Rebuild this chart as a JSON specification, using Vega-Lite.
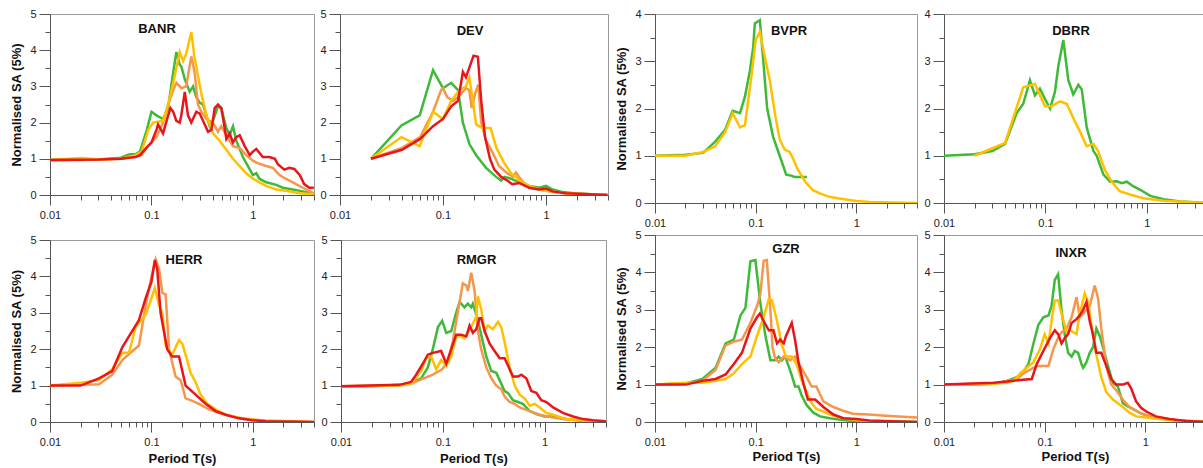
{
"$schema":"https://vega.github.io/schema/vega-lite/v6.json",
"padding":{"left":10,"top":7,"right":0,"bottom":0},
"autosize":{"type":"pad"},
"datasets":{
"BANR":[
{"s":"G","T":0.01,"v":0.97},{"s":"G","T":0.02,"v":0.97},{"s":"G","T":0.03,"v":0.98},{"s":"G","T":0.05,"v":1.03},{"s":"G","T":0.06,"v":1.12},{"s":"G","T":0.07,"v":1.13},{"s":"G","T":0.077,"v":1.2},{"s":"G","T":0.09,"v":1.8},{"s":"G","T":0.1,"v":2.3},{"s":"G","T":0.112,"v":2.2},{"s":"G","T":0.13,"v":2.1},{"s":"G","T":0.146,"v":2.4},{"s":"G","T":0.16,"v":3.2},{"s":"G","T":0.176,"v":3.95},{"s":"G","T":0.19,"v":3.6},{"s":"G","T":0.197,"v":3.55},{"s":"G","T":0.213,"v":3.2},{"s":"G","T":0.238,"v":2.85},{"s":"G","T":0.257,"v":3.0},{"s":"G","T":0.277,"v":2.7},{"s":"G","T":0.299,"v":2.55},{"s":"G","T":0.322,"v":2.5},{"s":"G","T":0.348,"v":2.2},{"s":"G","T":0.375,"v":1.9},{"s":"G","T":0.404,"v":2.05},{"s":"G","T":0.453,"v":2.45},{"s":"G","T":0.488,"v":2.4},{"s":"G","T":0.547,"v":1.85},{"s":"G","T":0.589,"v":1.65},{"s":"G","T":0.636,"v":1.9},{"s":"G","T":0.686,"v":1.5},{"s":"G","T":0.797,"v":1.05},{"s":"G","T":0.893,"v":0.8},{"s":"G","T":1.0,"v":0.55},{"s":"G","T":1.08,"v":0.6},{"s":"G","T":1.16,"v":0.45},{"s":"G","T":1.35,"v":0.35},{"s":"G","T":1.7,"v":0.28},{"s":"G","T":1.97,"v":0.2},{"s":"G","T":2.47,"v":0.15},{"s":"G","T":3.1,"v":0.1},{"s":"G","T":3.98,"v":0.03},
{"s":"O","T":0.01,"v":0.97},{"s":"O","T":0.03,"v":0.98},{"s":"O","T":0.05,"v":1.0},{"s":"O","T":0.07,"v":1.08},{"s":"O","T":0.08,"v":1.1},{"s":"O","T":0.089,"v":1.3},{"s":"O","T":0.112,"v":1.6},{"s":"O","T":0.13,"v":2.0},{"s":"O","T":0.146,"v":2.5},{"s":"O","T":0.164,"v":2.9},{"s":"O","T":0.176,"v":3.1},{"s":"O","T":0.197,"v":2.95},{"s":"O","T":0.22,"v":3.0},{"s":"O","T":0.247,"v":3.83},{"s":"O","T":0.266,"v":3.4},{"s":"O","T":0.287,"v":2.5},{"s":"O","T":0.31,"v":2.3},{"s":"O","T":0.348,"v":2.1},{"s":"O","T":0.404,"v":2.0},{"s":"O","T":0.453,"v":1.75},{"s":"O","T":0.488,"v":1.9},{"s":"O","T":0.547,"v":1.65},{"s":"O","T":0.589,"v":1.5},{"s":"O","T":0.636,"v":1.35},{"s":"O","T":0.74,"v":1.3},{"s":"O","T":0.86,"v":1.1},{"s":"O","T":1.0,"v":0.95},{"s":"O","T":1.11,"v":0.88},{"s":"O","T":1.35,"v":0.8},{"s":"O","T":1.57,"v":0.75},{"s":"O","T":1.83,"v":0.55},{"s":"O","T":2.1,"v":0.45},{"s":"O","T":2.47,"v":0.35},{"s":"O","T":3.1,"v":0.2},{"s":"O","T":3.98,"v":0.05},
{"s":"Y","T":0.01,"v":0.97},{"s":"Y","T":0.02,"v":1.02},{"s":"Y","T":0.03,"v":0.99},{"s":"Y","T":0.05,"v":1.0},{"s":"Y","T":0.06,"v":1.05},{"s":"Y","T":0.07,"v":1.1},{"s":"Y","T":0.08,"v":1.2},{"s":"Y","T":0.093,"v":1.8},{"s":"Y","T":0.104,"v":2.0},{"s":"Y","T":0.13,"v":2.05},{"s":"Y","T":0.146,"v":2.5},{"s":"Y","T":0.164,"v":3.1},{"s":"Y","T":0.19,"v":3.95},{"s":"Y","T":0.205,"v":3.7},{"s":"Y","T":0.22,"v":3.9},{"s":"Y","T":0.247,"v":4.5},{"s":"Y","T":0.266,"v":3.8},{"s":"Y","T":0.287,"v":3.3},{"s":"Y","T":0.31,"v":2.8},{"s":"Y","T":0.348,"v":2.2},{"s":"Y","T":0.404,"v":1.7},{"s":"Y","T":0.47,"v":1.5},{"s":"Y","T":0.547,"v":1.25},{"s":"Y","T":0.636,"v":1.0},{"s":"Y","T":0.74,"v":0.8},{"s":"Y","T":0.86,"v":0.6},{"s":"Y","T":1.0,"v":0.45},{"s":"Y","T":1.16,"v":0.35},{"s":"Y","T":1.35,"v":0.25},{"s":"Y","T":1.7,"v":0.15},{"s":"Y","T":2.1,"v":0.12},{"s":"Y","T":2.9,"v":0.05},{"s":"Y","T":3.98,"v":0.02},
{"s":"R","T":0.01,"v":0.97},{"s":"R","T":0.03,"v":0.98},{"s":"R","T":0.05,"v":1.0},{"s":"R","T":0.07,"v":1.05},{"s":"R","T":0.077,"v":1.1},{"s":"R","T":0.089,"v":1.3},{"s":"R","T":0.1,"v":1.45},{"s":"R","T":0.112,"v":1.8},{"s":"R","T":0.116,"v":1.95},{"s":"R","T":0.13,"v":1.7},{"s":"R","T":0.146,"v":2.2},{"s":"R","T":0.154,"v":2.4},{"s":"R","T":0.164,"v":2.3},{"s":"R","T":0.176,"v":2.05},{"s":"R","T":0.19,"v":2.0},{"s":"R","T":0.197,"v":2.2},{"s":"R","T":0.213,"v":2.85},{"s":"R","T":0.229,"v":2.2},{"s":"R","T":0.247,"v":2.0},{"s":"R","T":0.277,"v":2.3},{"s":"R","T":0.299,"v":2.25},{"s":"R","T":0.335,"v":1.95},{"s":"R","T":0.361,"v":1.75},{"s":"R","T":0.39,"v":1.8},{"s":"R","T":0.42,"v":2.4},{"s":"R","T":0.453,"v":2.5},{"s":"R","T":0.488,"v":2.4},{"s":"R","T":0.527,"v":1.85},{"s":"R","T":0.547,"v":1.55},{"s":"R","T":0.589,"v":1.7},{"s":"R","T":0.636,"v":1.45},{"s":"R","T":0.686,"v":1.6},{"s":"R","T":0.74,"v":1.65},{"s":"R","T":0.83,"v":1.35},{"s":"R","T":0.93,"v":1.1},{"s":"R","T":1.0,"v":1.2},{"s":"R","T":1.08,"v":1.27},{"s":"R","T":1.25,"v":1.05},{"s":"R","T":1.45,"v":1.05},{"s":"R","T":1.65,"v":1.0},{"s":"R","T":1.76,"v":0.85},{"s":"R","T":2.04,"v":0.7},{"s":"R","T":2.28,"v":0.75},{"s":"R","T":2.56,"v":0.72},{"s":"R","T":2.9,"v":0.55},{"s":"R","T":3.2,"v":0.3},{"s":"R","T":3.6,"v":0.2},{"s":"R","T":3.98,"v":0.2}
],
"DEV":[
{"s":"G","T":0.02,"v":1.0},{"s":"G","T":0.0395,"v":1.92},{"s":"G","T":0.0594,"v":2.2},{"s":"G","T":0.08,"v":3.45},{"s":"G","T":0.1,"v":2.95},{"s":"G","T":0.12,"v":3.1},{"s":"G","T":0.14,"v":2.9},{"s":"G","T":0.156,"v":2.0},{"s":"G","T":0.181,"v":1.4},{"s":"G","T":0.21,"v":1.1},{"s":"G","T":0.262,"v":0.75},{"s":"G","T":0.328,"v":0.5},{"s":"G","T":0.367,"v":0.4},{"s":"G","T":0.395,"v":0.5},{"s":"G","T":0.458,"v":0.45},{"s":"G","T":0.552,"v":0.35},{"s":"G","T":0.69,"v":0.25},{"s":"G","T":0.861,"v":0.2},{"s":"G","T":1.0,"v":0.25},{"s":"G","T":1.16,"v":0.15},{"s":"G","T":1.45,"v":0.08},{"s":"G","T":1.95,"v":0.04},{"s":"G","T":3.95,"v":0.0},
{"s":"O","T":0.02,"v":1.0},{"s":"O","T":0.04,"v":1.3},{"s":"O","T":0.06,"v":1.6},{"s":"O","T":0.08,"v":2.3},{"s":"O","T":0.096,"v":2.9},{"s":"O","T":0.1,"v":2.95},{"s":"O","T":0.11,"v":2.7},{"s":"O","T":0.125,"v":2.6},{"s":"O","T":0.14,"v":2.7},{"s":"O","T":0.167,"v":2.95},{"s":"O","T":0.18,"v":2.9},{"s":"O","T":0.19,"v":2.4},{"s":"O","T":0.205,"v":2.8},{"s":"O","T":0.22,"v":3.05},{"s":"O","T":0.235,"v":2.0},{"s":"O","T":0.262,"v":1.5},{"s":"O","T":0.3,"v":1.2},{"s":"O","T":0.35,"v":0.8},{"s":"O","T":0.42,"v":0.6},{"s":"O","T":0.48,"v":0.5},{"s":"O","T":0.51,"v":0.62},{"s":"O","T":0.58,"v":0.4},{"s":"O","T":0.69,"v":0.2},{"s":"O","T":0.861,"v":0.15},{"s":"O","T":1.0,"v":0.12},{"s":"O","T":1.16,"v":0.08},{"s":"O","T":1.56,"v":0.04},{"s":"O","T":3.95,"v":0.0},
{"s":"Y","T":0.02,"v":1.0},{"s":"Y","T":0.0395,"v":1.6},{"s":"Y","T":0.051,"v":1.45},{"s":"Y","T":0.0594,"v":1.35},{"s":"Y","T":0.08,"v":2.3},{"s":"Y","T":0.1,"v":2.1},{"s":"Y","T":0.12,"v":2.6},{"s":"Y","T":0.145,"v":2.9},{"s":"Y","T":0.167,"v":3.0},{"s":"Y","T":0.18,"v":3.25},{"s":"Y","T":0.195,"v":2.6},{"s":"Y","T":0.21,"v":1.95},{"s":"Y","T":0.24,"v":1.85},{"s":"Y","T":0.29,"v":1.85},{"s":"Y","T":0.33,"v":1.3},{"s":"Y","T":0.39,"v":0.9},{"s":"Y","T":0.458,"v":0.6},{"s":"Y","T":0.51,"v":0.5},{"s":"Y","T":0.552,"v":0.4},{"s":"Y","T":0.69,"v":0.25},{"s":"Y","T":0.861,"v":0.15},{"s":"Y","T":1.16,"v":0.1},{"s":"Y","T":1.56,"v":0.05},{"s":"Y","T":3.95,"v":0.0},
{"s":"R","T":0.02,"v":1.0},{"s":"R","T":0.04,"v":1.25},{"s":"R","T":0.06,"v":1.55},{"s":"R","T":0.08,"v":1.9},{"s":"R","T":0.1,"v":2.1},{"s":"R","T":0.12,"v":2.45},{"s":"R","T":0.14,"v":2.6},{"s":"R","T":0.156,"v":3.4},{"s":"R","T":0.167,"v":3.25},{"s":"R","T":0.198,"v":3.85},{"s":"R","T":0.218,"v":3.82},{"s":"R","T":0.235,"v":2.6},{"s":"R","T":0.256,"v":1.6},{"s":"R","T":0.286,"v":1.0},{"s":"R","T":0.315,"v":0.7},{"s":"R","T":0.367,"v":0.5},{"s":"R","T":0.42,"v":0.4},{"s":"R","T":0.47,"v":0.3},{"s":"R","T":0.552,"v":0.33},{"s":"R","T":0.69,"v":0.2},{"s":"R","T":0.861,"v":0.15},{"s":"R","T":1.0,"v":0.18},{"s":"R","T":1.16,"v":0.1},{"s":"R","T":1.56,"v":0.05},{"s":"R","T":3.95,"v":0.0}
],
"BVPR":[
{"s":"G","T":0.01,"v":1.0},{"s":"G","T":0.02,"v":1.02},{"s":"G","T":0.03,"v":1.06},{"s":"G","T":0.0396,"v":1.3},{"s":"G","T":0.0497,"v":1.55},{"s":"G","T":0.0591,"v":1.95},{"s":"G","T":0.0698,"v":1.9},{"s":"G","T":0.0782,"v":2.25},{"s":"G","T":0.0876,"v":2.8},{"s":"G","T":0.0945,"v":3.3},{"s":"G","T":0.098,"v":3.8},{"s":"G","T":0.11,"v":3.87},{"s":"G","T":0.119,"v":3.0},{"s":"G","T":0.13,"v":2.0},{"s":"G","T":0.149,"v":1.4},{"s":"G","T":0.173,"v":1.0},{"s":"G","T":0.201,"v":0.6},{"s":"G","T":0.225,"v":0.58},{"s":"G","T":0.243,"v":0.55},{"s":"G","T":0.322,"v":0.55},
{"s":"Y","T":0.01,"v":1.0},{"s":"Y","T":0.02,"v":1.0},{"s":"Y","T":0.03,"v":1.08},{"s":"Y","T":0.0396,"v":1.2},{"s":"Y","T":0.0497,"v":1.5},{"s":"Y","T":0.0591,"v":1.9},{"s":"Y","T":0.0698,"v":1.6},{"s":"Y","T":0.0782,"v":1.65},{"s":"Y","T":0.091,"v":2.7},{"s":"Y","T":0.1,"v":3.45},{"s":"Y","T":0.11,"v":3.62},{"s":"Y","T":0.123,"v":3.1},{"s":"Y","T":0.138,"v":2.6},{"s":"Y","T":0.155,"v":1.9},{"s":"Y","T":0.173,"v":1.35},{"s":"Y","T":0.194,"v":1.13},{"s":"Y","T":0.217,"v":1.08},{"s":"Y","T":0.234,"v":0.95},{"s":"Y","T":0.26,"v":0.72},{"s":"Y","T":0.31,"v":0.45},{"s":"Y","T":0.37,"v":0.27},{"s":"Y","T":0.44,"v":0.2},{"s":"Y","T":0.52,"v":0.14},{"s":"Y","T":0.65,"v":0.1},{"s":"Y","T":1.0,"v":0.04},{"s":"Y","T":1.37,"v":0.02},{"s":"Y","T":4.0,"v":0.0}
],
"DBRR":[
{"s":"G","T":0.01,"v":1.0},{"s":"G","T":0.02,"v":1.03},{"s":"G","T":0.03,"v":1.1},{"s":"G","T":0.04,"v":1.25},{"s":"G","T":0.0519,"v":1.9},{"s":"G","T":0.0604,"v":2.1},{"s":"G","T":0.0703,"v":2.6},{"s":"G","T":0.0788,"v":2.28},{"s":"G","T":0.0882,"v":2.42},{"s":"G","T":0.0989,"v":2.2},{"s":"G","T":0.111,"v":2.0},{"s":"G","T":0.124,"v":2.35},{"s":"G","T":0.134,"v":2.9},{"s":"G","T":0.15,"v":3.45},{"s":"G","T":0.168,"v":2.6},{"s":"G","T":0.188,"v":2.3},{"s":"G","T":0.211,"v":2.5},{"s":"G","T":0.228,"v":2.4},{"s":"G","T":0.255,"v":1.6},{"s":"G","T":0.297,"v":1.1},{"s":"G","T":0.32,"v":1.0},{"s":"G","T":0.373,"v":0.6},{"s":"G","T":0.434,"v":0.45},{"s":"G","T":0.505,"v":0.46},{"s":"G","T":0.566,"v":0.42},{"s":"G","T":0.634,"v":0.45},{"s":"G","T":0.738,"v":0.35},{"s":"G","T":0.859,"v":0.28},{"s":"G","T":1.08,"v":0.15},{"s":"G","T":1.46,"v":0.08},{"s":"G","T":2.13,"v":0.03},{"s":"G","T":4.0,"v":0.0},
{"s":"Y","T":0.02,"v":1.0},{"s":"Y","T":0.04,"v":1.27},{"s":"Y","T":0.0604,"v":2.45},{"s":"Y","T":0.0788,"v":2.52},{"s":"Y","T":0.0989,"v":2.05},{"s":"Y","T":0.115,"v":2.05},{"s":"Y","T":0.139,"v":2.15},{"s":"Y","T":0.162,"v":2.1},{"s":"Y","T":0.188,"v":1.8},{"s":"Y","T":0.22,"v":1.5},{"s":"Y","T":0.255,"v":1.2},{"s":"Y","T":0.297,"v":1.25},{"s":"Y","T":0.33,"v":1.1},{"s":"Y","T":0.385,"v":0.7},{"s":"Y","T":0.45,"v":0.45},{"s":"Y","T":0.54,"v":0.25},{"s":"Y","T":0.68,"v":0.18},{"s":"Y","T":0.92,"v":0.1},{"s":"Y","T":1.46,"v":0.05},{"s":"Y","T":4.0,"v":0.0}
],
"HERR":[
{"s":"O","T":0.01,"v":1.0},{"s":"O","T":0.02,"v":1.02},{"s":"O","T":0.0304,"v":1.04},{"s":"O","T":0.0411,"v":1.3},{"s":"O","T":0.0516,"v":1.7},{"s":"O","T":0.065,"v":1.95},{"s":"O","T":0.0753,"v":2.1},{"s":"O","T":0.0877,"v":3.2},{"s":"O","T":0.1,"v":4.0},{"s":"O","T":0.11,"v":4.47},{"s":"O","T":0.119,"v":4.2},{"s":"O","T":0.128,"v":3.55},{"s":"O","T":0.138,"v":3.5},{"s":"O","T":0.149,"v":2.0},{"s":"O","T":0.173,"v":1.25},{"s":"O","T":0.194,"v":1.15},{"s":"O","T":0.217,"v":0.65},{"s":"O","T":0.243,"v":0.6},{"s":"O","T":0.294,"v":0.5},{"s":"O","T":0.369,"v":0.35},{"s":"O","T":0.462,"v":0.25},{"s":"O","T":0.626,"v":0.15},{"s":"O","T":0.847,"v":0.08},{"s":"O","T":1.33,"v":0.04},{"s":"O","T":4.0,"v":0.0},
{"s":"Y","T":0.01,"v":1.0},{"s":"Y","T":0.02,"v":1.08},{"s":"Y","T":0.0304,"v":1.15},{"s":"Y","T":0.0411,"v":1.45},{"s":"Y","T":0.0516,"v":1.9},{"s":"Y","T":0.06,"v":1.9},{"s":"Y","T":0.0698,"v":2.6},{"s":"Y","T":0.0877,"v":2.95},{"s":"Y","T":0.1,"v":3.4},{"s":"Y","T":0.108,"v":3.68},{"s":"Y","T":0.119,"v":3.2},{"s":"Y","T":0.128,"v":3.0},{"s":"Y","T":0.138,"v":2.1},{"s":"Y","T":0.16,"v":1.85},{"s":"Y","T":0.187,"v":2.25},{"s":"Y","T":0.201,"v":2.15},{"s":"Y","T":0.225,"v":1.7},{"s":"Y","T":0.243,"v":1.35},{"s":"Y","T":0.272,"v":1.1},{"s":"Y","T":0.305,"v":0.75},{"s":"Y","T":0.355,"v":0.5},{"s":"Y","T":0.429,"v":0.35},{"s":"Y","T":0.538,"v":0.2},{"s":"Y","T":0.728,"v":0.12},{"s":"Y","T":0.985,"v":0.07},{"s":"Y","T":1.33,"v":0.03},{"s":"Y","T":4.0,"v":0.0},
{"s":"R","T":0.01,"v":1.0},{"s":"R","T":0.02,"v":1.0},{"s":"R","T":0.0304,"v":1.2},{"s":"R","T":0.0411,"v":1.4},{"s":"R","T":0.0516,"v":2.05},{"s":"R","T":0.06,"v":2.35},{"s":"R","T":0.0753,"v":2.8},{"s":"R","T":0.0877,"v":3.4},{"s":"R","T":0.1,"v":3.85},{"s":"R","T":0.108,"v":4.45},{"s":"R","T":0.114,"v":4.2},{"s":"R","T":0.123,"v":3.0},{"s":"R","T":0.143,"v":2.0},{"s":"R","T":0.16,"v":1.8},{"s":"R","T":0.187,"v":1.8},{"s":"R","T":0.217,"v":1.0},{"s":"R","T":0.272,"v":0.75},{"s":"R","T":0.342,"v":0.5},{"s":"R","T":0.429,"v":0.3},{"s":"R","T":0.538,"v":0.2},{"s":"R","T":0.728,"v":0.1},{"s":"R","T":0.985,"v":0.05},{"s":"R","T":1.33,"v":0.02},{"s":"R","T":4.0,"v":0.0}
],
"RMGR":[
{"s":"G","T":0.01,"v":0.98},{"s":"G","T":0.0197,"v":0.98},{"s":"G","T":0.0375,"v":1.02},{"s":"G","T":0.0488,"v":1.08},{"s":"G","T":0.0612,"v":1.2},{"s":"G","T":0.0712,"v":1.5},{"s":"G","T":0.0797,"v":2.0},{"s":"G","T":0.0893,"v":2.6},{"s":"G","T":0.0985,"v":2.78},{"s":"G","T":0.108,"v":2.45},{"s":"G","T":0.121,"v":2.5},{"s":"G","T":0.135,"v":3.0},{"s":"G","T":0.146,"v":3.3},{"s":"G","T":0.163,"v":3.15},{"s":"G","T":0.176,"v":3.25},{"s":"G","T":0.19,"v":3.15},{"s":"G","T":0.197,"v":3.25},{"s":"G","T":0.221,"v":2.8},{"s":"G","T":0.238,"v":2.4},{"s":"G","T":0.267,"v":1.8},{"s":"G","T":0.299,"v":1.4},{"s":"G","T":0.335,"v":1.35},{"s":"G","T":0.361,"v":1.15},{"s":"G","T":0.404,"v":0.85},{"s":"G","T":0.436,"v":0.8},{"s":"G","T":0.488,"v":0.6},{"s":"G","T":0.547,"v":0.55},{"s":"G","T":0.612,"v":0.5},{"s":"G","T":0.712,"v":0.3},{"s":"G","T":0.828,"v":0.22},{"s":"G","T":1.0,"v":0.15},{"s":"G","T":1.21,"v":0.15},{"s":"G","T":1.63,"v":0.08},{"s":"G","T":2.38,"v":0.03},{"s":"G","T":4.0,"v":0.0},
{"s":"O","T":0.01,"v":0.98},{"s":"O","T":0.0375,"v":1.0},{"s":"O","T":0.0488,"v":1.05},{"s":"O","T":0.0589,"v":1.15},{"s":"O","T":0.0797,"v":1.3},{"s":"O","T":0.0985,"v":1.45},{"s":"O","T":0.112,"v":1.65},{"s":"O","T":0.125,"v":2.2},{"s":"O","T":0.14,"v":3.0},{"s":"O","T":0.157,"v":3.81},{"s":"O","T":0.17,"v":3.75},{"s":"O","T":0.176,"v":3.6},{"s":"O","T":0.19,"v":4.1},{"s":"O","T":0.205,"v":3.6},{"s":"O","T":0.221,"v":2.5},{"s":"O","T":0.238,"v":2.0},{"s":"O","T":0.267,"v":1.5},{"s":"O","T":0.299,"v":1.2},{"s":"O","T":0.335,"v":1.0},{"s":"O","T":0.375,"v":0.9},{"s":"O","T":0.404,"v":0.7},{"s":"O","T":0.453,"v":0.55},{"s":"O","T":0.507,"v":0.5},{"s":"O","T":0.568,"v":0.4},{"s":"O","T":0.712,"v":0.3},{"s":"O","T":0.893,"v":0.2},{"s":"O","T":1.21,"v":0.12},{"s":"O","T":1.63,"v":0.07},{"s":"O","T":4.0,"v":0.0},
{"s":"Y","T":0.01,"v":0.98},{"s":"Y","T":0.0375,"v":1.0},{"s":"Y","T":0.0488,"v":1.05},{"s":"Y","T":0.0612,"v":1.4},{"s":"Y","T":0.0686,"v":1.75},{"s":"Y","T":0.0768,"v":1.8},{"s":"Y","T":0.086,"v":1.45},{"s":"Y","T":0.0963,"v":1.7},{"s":"Y","T":0.108,"v":1.55},{"s":"Y","T":0.121,"v":1.8},{"s":"Y","T":0.135,"v":2.35},{"s":"Y","T":0.151,"v":2.35},{"s":"Y","T":0.163,"v":2.3},{"s":"Y","T":0.176,"v":2.45},{"s":"Y","T":0.197,"v":2.7},{"s":"Y","T":0.213,"v":2.9},{"s":"Y","T":0.221,"v":3.45},{"s":"Y","T":0.238,"v":3.1},{"s":"Y","T":0.257,"v":2.5},{"s":"Y","T":0.277,"v":2.65},{"s":"Y","T":0.31,"v":2.55},{"s":"Y","T":0.348,"v":2.75},{"s":"Y","T":0.375,"v":2.6},{"s":"Y","T":0.404,"v":2.2},{"s":"Y","T":0.453,"v":1.5},{"s":"Y","T":0.507,"v":1.0},{"s":"Y","T":0.568,"v":0.75},{"s":"Y","T":0.636,"v":0.65},{"s":"Y","T":0.712,"v":0.45},{"s":"Y","T":0.797,"v":0.5},{"s":"Y","T":0.893,"v":0.4},{"s":"Y","T":1.04,"v":0.25},{"s":"Y","T":1.21,"v":0.2},{"s":"Y","T":1.63,"v":0.08},{"s":"Y","T":4.0,"v":0.0},
{"s":"R","T":0.01,"v":0.98},{"s":"R","T":0.0375,"v":1.02},{"s":"R","T":0.0488,"v":1.1},{"s":"R","T":0.0547,"v":1.3},{"s":"R","T":0.0636,"v":1.6},{"s":"R","T":0.0712,"v":1.85},{"s":"R","T":0.0797,"v":1.9},{"s":"R","T":0.0963,"v":1.95},{"s":"R","T":0.108,"v":1.6},{"s":"R","T":0.116,"v":1.85},{"s":"R","T":0.135,"v":2.4},{"s":"R","T":0.151,"v":2.4},{"s":"R","T":0.17,"v":2.35},{"s":"R","T":0.183,"v":2.65},{"s":"R","T":0.197,"v":2.45},{"s":"R","T":0.213,"v":2.55},{"s":"R","T":0.229,"v":2.85},{"s":"R","T":0.238,"v":2.85},{"s":"R","T":0.257,"v":2.5},{"s":"R","T":0.288,"v":2.15},{"s":"R","T":0.322,"v":1.95},{"s":"R","T":0.361,"v":1.75},{"s":"R","T":0.404,"v":1.75},{"s":"R","T":0.436,"v":1.55},{"s":"R","T":0.488,"v":1.25},{"s":"R","T":0.547,"v":1.25},{"s":"R","T":0.589,"v":1.3},{"s":"R","T":0.66,"v":1.2},{"s":"R","T":0.739,"v":0.85},{"s":"R","T":0.828,"v":0.8},{"s":"R","T":0.927,"v":0.6},{"s":"R","T":1.04,"v":0.55},{"s":"R","T":1.21,"v":0.4},{"s":"R","T":1.51,"v":0.25},{"s":"R","T":1.9,"v":0.15},{"s":"R","T":2.38,"v":0.08},{"s":"R","T":2.99,"v":0.05},{"s":"R","T":4.0,"v":0.02}
],
"GZR":[
{"s":"G","T":0.01,"v":1.0},{"s":"G","T":0.0202,"v":1.03},{"s":"G","T":0.0296,"v":1.15},{"s":"G","T":0.04,"v":1.45},{"s":"G","T":0.0502,"v":2.1},{"s":"G","T":0.0607,"v":2.2},{"s":"G","T":0.0706,"v":2.85},{"s":"G","T":0.0791,"v":3.05},{"s":"G","T":0.0886,"v":4.3},{"s":"G","T":0.0993,"v":4.33},{"s":"G","T":0.111,"v":3.2},{"s":"G","T":0.125,"v":2.3},{"s":"G","T":0.14,"v":1.65},{"s":"G","T":0.156,"v":1.65},{"s":"G","T":0.169,"v":1.75},{"s":"G","T":0.182,"v":1.65},{"s":"G","T":0.196,"v":1.75},{"s":"G","T":0.212,"v":1.5},{"s":"G","T":0.228,"v":1.25},{"s":"G","T":0.246,"v":0.95},{"s":"G","T":0.266,"v":0.95},{"s":"G","T":0.287,"v":0.7},{"s":"G","T":0.321,"v":0.45},{"s":"G","T":0.374,"v":0.25},{"s":"G","T":0.435,"v":0.15},{"s":"G","T":0.545,"v":0.1},{"s":"G","T":0.739,"v":0.05},{"s":"G","T":1.0,"v":0.02},{"s":"G","T":4.0,"v":0.0},
{"s":"O","T":0.01,"v":1.0},{"s":"O","T":0.0202,"v":1.02},{"s":"O","T":0.0296,"v":1.1},{"s":"O","T":0.04,"v":1.4},{"s":"O","T":0.0502,"v":2.05},{"s":"O","T":0.0607,"v":2.15},{"s":"O","T":0.073,"v":2.2},{"s":"O","T":0.0886,"v":2.65},{"s":"O","T":0.103,"v":3.1},{"s":"O","T":0.111,"v":3.4},{"s":"O","T":0.12,"v":4.31},{"s":"O","T":0.129,"v":4.33},{"s":"O","T":0.14,"v":3.0},{"s":"O","T":0.147,"v":2.0},{"s":"O","T":0.156,"v":1.7},{"s":"O","T":0.169,"v":1.6},{"s":"O","T":0.19,"v":1.75},{"s":"O","T":0.22,"v":1.65},{"s":"O","T":0.246,"v":1.75},{"s":"O","T":0.276,"v":1.5},{"s":"O","T":0.321,"v":1.2},{"s":"O","T":0.36,"v":0.95},{"s":"O","T":0.4,"v":0.95},{"s":"O","T":0.47,"v":0.55},{"s":"O","T":0.59,"v":0.4},{"s":"O","T":0.739,"v":0.3},{"s":"O","T":0.92,"v":0.22},{"s":"O","T":1.34,"v":0.2},{"s":"O","T":1.95,"v":0.17},{"s":"O","T":2.9,"v":0.14},{"s":"O","T":4.0,"v":0.12},
{"s":"Y","T":0.01,"v":1.0},{"s":"Y","T":0.0202,"v":1.05},{"s":"Y","T":0.0296,"v":1.05},{"s":"Y","T":0.04,"v":1.1},{"s":"Y","T":0.0502,"v":1.15},{"s":"Y","T":0.0607,"v":1.3},{"s":"Y","T":0.073,"v":1.55},{"s":"Y","T":0.0886,"v":1.75},{"s":"Y","T":0.103,"v":2.3},{"s":"Y","T":0.12,"v":2.8},{"s":"Y","T":0.135,"v":3.29},{"s":"Y","T":0.145,"v":3.25},{"s":"Y","T":0.163,"v":2.7},{"s":"Y","T":0.182,"v":2.05},{"s":"Y","T":0.2,"v":1.75},{"s":"Y","T":0.228,"v":1.75},{"s":"Y","T":0.255,"v":1.55},{"s":"Y","T":0.287,"v":1.1},{"s":"Y","T":0.321,"v":0.8},{"s":"Y","T":0.36,"v":0.5},{"s":"Y","T":0.4,"v":0.35},{"s":"Y","T":0.47,"v":0.28},{"s":"Y","T":0.545,"v":0.2},{"s":"Y","T":0.739,"v":0.1},{"s":"Y","T":1.0,"v":0.05},{"s":"Y","T":1.34,"v":0.03},{"s":"Y","T":4.0,"v":0.0},
{"s":"R","T":0.01,"v":1.0},{"s":"R","T":0.0202,"v":1.0},{"s":"R","T":0.0296,"v":1.1},{"s":"R","T":0.04,"v":1.15},{"s":"R","T":0.0502,"v":1.27},{"s":"R","T":0.0607,"v":1.55},{"s":"R","T":0.073,"v":1.85},{"s":"R","T":0.0886,"v":2.5},{"s":"R","T":0.103,"v":2.8},{"s":"R","T":0.11,"v":2.9},{"s":"R","T":0.12,"v":2.7},{"s":"R","T":0.135,"v":2.45},{"s":"R","T":0.15,"v":2.45},{"s":"R","T":0.163,"v":2.1},{"s":"R","T":0.175,"v":2.2},{"s":"R","T":0.19,"v":2.1},{"s":"R","T":0.2,"v":2.3},{"s":"R","T":0.228,"v":2.65},{"s":"R","T":0.246,"v":2.2},{"s":"R","T":0.266,"v":1.6},{"s":"R","T":0.3,"v":1.0},{"s":"R","T":0.33,"v":0.6},{"s":"R","T":0.39,"v":0.6},{"s":"R","T":0.47,"v":0.4},{"s":"R","T":0.59,"v":0.2},{"s":"R","T":0.739,"v":0.1},{"s":"R","T":1.0,"v":0.08},{"s":"R","T":1.34,"v":0.04},{"s":"R","T":4.0,"v":0.0}
],
"INXR":[
{"s":"G","T":0.01,"v":1.0},{"s":"G","T":0.0198,"v":1.0},{"s":"G","T":0.0311,"v":1.02},{"s":"G","T":0.0422,"v":1.1},{"s":"G","T":0.0529,"v":1.2},{"s":"G","T":0.0616,"v":1.35},{"s":"G","T":0.069,"v":1.55},{"s":"G","T":0.0773,"v":2.1},{"s":"G","T":0.0866,"v":2.6},{"s":"G","T":0.097,"v":2.8},{"s":"G","T":0.109,"v":2.85},{"s":"G","T":0.117,"v":3.1},{"s":"G","T":0.126,"v":3.8},{"s":"G","T":0.136,"v":3.95},{"s":"G","T":0.147,"v":3.0},{"s":"G","T":0.159,"v":2.3},{"s":"G","T":0.171,"v":1.85},{"s":"G","T":0.185,"v":1.75},{"s":"G","T":0.199,"v":1.9},{"s":"G","T":0.215,"v":1.85},{"s":"G","T":0.232,"v":1.55},{"s":"G","T":0.241,"v":1.45},{"s":"G","T":0.26,"v":1.6},{"s":"G","T":0.28,"v":1.85},{"s":"G","T":0.302,"v":2.0},{"s":"G","T":0.326,"v":2.5},{"s":"G","T":0.352,"v":2.3},{"s":"G","T":0.379,"v":2.0},{"s":"G","T":0.425,"v":1.5},{"s":"G","T":0.476,"v":1.05},{"s":"G","T":0.533,"v":0.95},{"s":"G","T":0.597,"v":0.5},{"s":"G","T":0.669,"v":0.42},{"s":"G","T":0.75,"v":0.35},{"s":"G","T":0.873,"v":0.25},{"s":"G","T":1.02,"v":0.18},{"s":"G","T":1.37,"v":0.1},{"s":"G","T":2.01,"v":0.05},{"s":"G","T":4.0,"v":0.0},
{"s":"O","T":0.01,"v":1.0},{"s":"O","T":0.0311,"v":1.02},{"s":"O","T":0.0422,"v":1.1},{"s":"O","T":0.0529,"v":1.15},{"s":"O","T":0.0616,"v":1.3},{"s":"O","T":0.0717,"v":1.4},{"s":"O","T":0.0834,"v":1.5},{"s":"O","T":0.097,"v":1.5},{"s":"O","T":0.109,"v":1.5},{"s":"O","T":0.122,"v":1.95},{"s":"O","T":0.136,"v":2.25},{"s":"O","T":0.147,"v":2.4},{"s":"O","T":0.165,"v":2.5},{"s":"O","T":0.185,"v":2.8},{"s":"O","T":0.207,"v":3.34},{"s":"O","T":0.223,"v":2.8},{"s":"O","T":0.241,"v":2.9},{"s":"O","T":0.26,"v":3.0},{"s":"O","T":0.28,"v":3.1},{"s":"O","T":0.314,"v":3.65},{"s":"O","T":0.339,"v":3.3},{"s":"O","T":0.365,"v":2.5},{"s":"O","T":0.409,"v":1.5},{"s":"O","T":0.458,"v":1.0},{"s":"O","T":0.514,"v":0.85},{"s":"O","T":0.597,"v":0.6},{"s":"O","T":0.695,"v":0.4},{"s":"O","T":0.873,"v":0.25},{"s":"O","T":1.02,"v":0.18},{"s":"O","T":1.37,"v":0.1},{"s":"O","T":2.01,"v":0.05},{"s":"O","T":4.0,"v":0.0},
{"s":"Y","T":0.01,"v":1.0},{"s":"Y","T":0.0311,"v":1.02},{"s":"Y","T":0.0422,"v":1.05},{"s":"Y","T":0.0491,"v":1.1},{"s":"Y","T":0.057,"v":1.3},{"s":"Y","T":0.0664,"v":1.45},{"s":"Y","T":0.0773,"v":1.6},{"s":"Y","T":0.0899,"v":1.95},{"s":"Y","T":0.1,"v":2.35},{"s":"Y","T":0.109,"v":2.1},{"s":"Y","T":0.12,"v":2.9},{"s":"Y","T":0.126,"v":3.25},{"s":"Y","T":0.136,"v":3.25},{"s":"Y","T":0.147,"v":2.9},{"s":"Y","T":0.165,"v":2.4},{"s":"Y","T":0.178,"v":2.45},{"s":"Y","T":0.192,"v":2.4},{"s":"Y","T":0.207,"v":2.35},{"s":"Y","T":0.223,"v":2.9},{"s":"Y","T":0.25,"v":3.44},{"s":"Y","T":0.27,"v":3.2},{"s":"Y","T":0.291,"v":2.6},{"s":"Y","T":0.326,"v":1.8},{"s":"Y","T":0.365,"v":1.2},{"s":"Y","T":0.409,"v":0.8},{"s":"Y","T":0.476,"v":0.6},{"s":"Y","T":0.597,"v":0.4},{"s":"Y","T":0.695,"v":0.25},{"s":"Y","T":0.809,"v":0.15},{"s":"Y","T":1.02,"v":0.12},{"s":"Y","T":1.37,"v":0.08},{"s":"Y","T":2.01,"v":0.04},{"s":"Y","T":4.0,"v":0.0},
{"s":"R","T":0.01,"v":1.0},{"s":"R","T":0.0311,"v":1.05},{"s":"R","T":0.0422,"v":1.08},{"s":"R","T":0.057,"v":1.12},{"s":"R","T":0.0744,"v":1.15},{"s":"R","T":0.0834,"v":1.55},{"s":"R","T":0.097,"v":1.9},{"s":"R","T":0.113,"v":2.25},{"s":"R","T":0.126,"v":2.45},{"s":"R","T":0.136,"v":2.35},{"s":"R","T":0.147,"v":2.1},{"s":"R","T":0.159,"v":2.25},{"s":"R","T":0.171,"v":2.35},{"s":"R","T":0.185,"v":2.65},{"s":"R","T":0.207,"v":2.75},{"s":"R","T":0.223,"v":2.85},{"s":"R","T":0.241,"v":3.0},{"s":"R","T":0.26,"v":3.21},{"s":"R","T":0.28,"v":2.7},{"s":"R","T":0.298,"v":2.4},{"s":"R","T":0.326,"v":1.85},{"s":"R","T":0.365,"v":1.85},{"s":"R","T":0.409,"v":1.5},{"s":"R","T":0.458,"v":1.15},{"s":"R","T":0.514,"v":1.0},{"s":"R","T":0.597,"v":1.0},{"s":"R","T":0.669,"v":1.05},{"s":"R","T":0.722,"v":0.9},{"s":"R","T":0.809,"v":0.55},{"s":"R","T":0.906,"v":0.38},{"s":"R","T":1.02,"v":0.28},{"s":"R","T":1.27,"v":0.15},{"s":"R","T":1.73,"v":0.08},{"s":"R","T":2.52,"v":0.03},{"s":"R","T":4.0,"v":0.0}
]
},
"spacing":6,
"hconcat":[
{"spacing":12,"vconcat":[
 {"bounds":"flush","spacing":26,"hconcat":[
  {"width":264,"height":181,"data":{"name":"BANR"},"title":{"text":"BANR","offset":0,"baseline":"middle","frame":"group","dx":-25,"dy":34},
   "mark":{"type":"line","strokeWidth":2.5,"clip":true},
   "encoding":{
    "x":{"field":"T","type":"quantitative","scale":{"type":"log","domain":[0.01,4],"nice":false},"axis":{"title":null,"values":[0.01,0.02,0.03,0.04,0.05,0.06,0.07,0.08,0.09,0.1,0.2,0.3,0.4,0.5,0.6,0.7,0.8,0.9,1,2,3,4],"labelExpr":"datum.value==0.01?'0.01':datum.value==0.1?'0.1':datum.value==1?'1':''","tickSize":{"condition":{"test":"datum.value==0.01||datum.value==0.1||datum.value==1","value":10},"value":5},"labelPadding":4}},
    "y":{"field":"v","type":"quantitative","scale":{"domain":[0,5],"nice":false},"axis":{"title":"Normalised SA (5%)","values":[0,0.5,1,1.5,2,2.5,3,3.5,4,4.5,5],"labelExpr":"datum.value%1==0?''+datum.value:''","tickSize":{"condition":{"test":"datum.value%1==0","value":11},"value":5},"labelPadding":3,"titlePadding":6}},
    "color":{"field":"s","type":"nominal","scale":{"domain":["G","O","Y","R"],"range":["#3dba38","#f5964a","#ffc000","#e8161b"]},"legend":null}}},
  {"width":268,"height":181,"data":{"name":"DEV"},"title":{"text":"DEV","offset":0,"baseline":"middle","frame":"group","dx":-4,"dy":36},
   "mark":{"type":"line","strokeWidth":2.5,"clip":true},
   "encoding":{
    "x":{"field":"T","type":"quantitative","scale":{"type":"log","domain":[0.01,4],"nice":false},"axis":{"title":null,"values":[0.01,0.02,0.03,0.04,0.05,0.06,0.07,0.08,0.09,0.1,0.2,0.3,0.4,0.5,0.6,0.7,0.8,0.9,1,2,3,4],"labelExpr":"datum.value==0.01?'0.01':datum.value==0.1?'0.1':datum.value==1?'1':''","tickSize":{"condition":{"test":"datum.value==0.01||datum.value==0.1||datum.value==1","value":10},"value":5},"labelPadding":4}},
    "y":{"field":"v","type":"quantitative","scale":{"domain":[0,5],"nice":false},"axis":{"title":null,"values":[0,0.5,1,1.5,2,2.5,3,3.5,4,4.5,5],"labelExpr":"datum.value%1==0?''+datum.value:''","tickSize":{"condition":{"test":"datum.value%1==0","value":11},"value":5},"labelPadding":3}},
    "color":{"field":"s","type":"nominal","scale":{"domain":["G","O","Y","R"],"range":["#3dba38","#f5964a","#ffc000","#e8161b"]},"legend":null}}}
 ]},
 {"bounds":"flush","spacing":27,"hconcat":[
  {"width":264,"height":182,"data":{"name":"HERR"},"title":{"text":"HERR","offset":0,"baseline":"middle","frame":"group","dx":2,"dy":39},
   "mark":{"type":"line","strokeWidth":2.5,"clip":true},
   "encoding":{
    "x":{"field":"T","type":"quantitative","scale":{"type":"log","domain":[0.01,4],"nice":false},"axis":{"title":"Period T(s)","values":[0.01,0.02,0.03,0.04,0.05,0.06,0.07,0.08,0.09,0.1,0.2,0.3,0.4,0.5,0.6,0.7,0.8,0.9,1,2,3,4],"labelExpr":"datum.value==0.01?'0.01':datum.value==0.1?'0.1':datum.value==1?'1':''","tickSize":{"condition":{"test":"datum.value==0.01||datum.value==0.1||datum.value==1","value":10},"value":5},"labelPadding":4,"titlePadding":5}},
    "y":{"field":"v","type":"quantitative","scale":{"domain":[0,5],"nice":false},"axis":{"title":"Normalised SA (5%)","values":[0,0.5,1,1.5,2,2.5,3,3.5,4,4.5,5],"labelExpr":"datum.value%1==0?''+datum.value:''","tickSize":{"condition":{"test":"datum.value%1==0","value":11},"value":5},"labelPadding":3,"titlePadding":6}},
    "color":{"field":"s","type":"nominal","scale":{"domain":["G","O","Y","R"],"range":["#3dba38","#f5964a","#ffc000","#e8161b"]},"legend":null}}},
  {"width":265,"height":182,"data":{"name":"RMGR"},"title":{"text":"RMGR","offset":0,"baseline":"middle","frame":"group","dx":3,"dy":39},
   "mark":{"type":"line","strokeWidth":2.5,"clip":true},
   "encoding":{
    "x":{"field":"T","type":"quantitative","scale":{"type":"log","domain":[0.01,4],"nice":false},"axis":{"title":"Period T(s)","values":[0.01,0.02,0.03,0.04,0.05,0.06,0.07,0.08,0.09,0.1,0.2,0.3,0.4,0.5,0.6,0.7,0.8,0.9,1,2,3,4],"labelExpr":"datum.value==0.01?'0.01':datum.value==0.1?'0.1':datum.value==1?'1':''","tickSize":{"condition":{"test":"datum.value==0.01||datum.value==0.1||datum.value==1","value":10},"value":5},"labelPadding":4,"titlePadding":5}},
    "y":{"field":"v","type":"quantitative","scale":{"domain":[0,5],"nice":false},"axis":{"title":null,"values":[0,0.5,1,1.5,2,2.5,3,3.5,4,4.5,5],"labelExpr":"datum.value%1==0?''+datum.value:''","tickSize":{"condition":{"test":"datum.value%1==0","value":11},"value":5},"labelPadding":3}},
    "color":{"field":"s","type":"nominal","scale":{"domain":["G","O","Y","R"],"range":["#3dba38","#f5964a","#ffc000","#e8161b"]},"legend":null}}}
 ]}
]},
{"spacing":-1,"vconcat":[
 {"bounds":"flush","spacing":27,"hconcat":[
  {"width":262,"height":189,"data":{"name":"BVPR"},"title":{"text":"BVPR","offset":0,"baseline":"middle","frame":"group","dx":3,"dy":36},
   "mark":{"type":"line","strokeWidth":2.5,"clip":true},
   "encoding":{
    "x":{"field":"T","type":"quantitative","scale":{"type":"log","domain":[0.01,4],"nice":false},"axis":{"title":null,"values":[0.01,0.02,0.03,0.04,0.05,0.06,0.07,0.08,0.09,0.1,0.2,0.3,0.4,0.5,0.6,0.7,0.8,0.9,1,2,3,4],"labelExpr":"datum.value==0.01?'0.01':datum.value==0.1?'0.1':datum.value==1?'1':''","tickSize":{"condition":{"test":"datum.value==0.01||datum.value==0.1||datum.value==1","value":10},"value":5},"labelPadding":4}},
    "y":{"field":"v","type":"quantitative","scale":{"domain":[0,4],"nice":false},"axis":{"title":"Normalised SA (5%)","values":[0,0.5,1,1.5,2,2.5,3,3.5,4],"labelExpr":"datum.value%1==0?''+datum.value:''","tickSize":{"condition":{"test":"datum.value%1==0","value":11},"value":5},"labelPadding":3,"titlePadding":6}},
    "color":{"field":"s","type":"nominal","scale":{"domain":["G","O","Y","R"],"range":["#3dba38","#f5964a","#ffc000","#e8161b"]},"legend":null}}},
  {"width":264,"height":189,"data":{"name":"DBRR"},"title":{"text":"DBRR","offset":0,"baseline":"middle","frame":"group","dx":-5,"dy":36},
   "mark":{"type":"line","strokeWidth":2.5,"clip":true},
   "encoding":{
    "x":{"field":"T","type":"quantitative","scale":{"type":"log","domain":[0.01,4],"nice":false},"axis":{"title":null,"values":[0.01,0.02,0.03,0.04,0.05,0.06,0.07,0.08,0.09,0.1,0.2,0.3,0.4,0.5,0.6,0.7,0.8,0.9,1,2,3,4],"labelExpr":"datum.value==0.01?'0.01':datum.value==0.1?'0.1':datum.value==1?'1':''","tickSize":{"condition":{"test":"datum.value==0.01||datum.value==0.1||datum.value==1","value":10},"value":5},"labelPadding":4}},
    "y":{"field":"v","type":"quantitative","scale":{"domain":[0,4],"nice":false},"axis":{"title":null,"values":[0,0.5,1,1.5,2,2.5,3,3.5,4],"labelExpr":"datum.value%1==0?''+datum.value:''","tickSize":{"condition":{"test":"datum.value%1==0","value":11},"value":5},"labelPadding":3}},
    "color":{"field":"s","type":"nominal","scale":{"domain":["G","O","Y","R"],"range":["#3dba38","#f5964a","#ffc000","#e8161b"]},"legend":null}}}
 ]},
 {"bounds":"flush","spacing":27,"hconcat":[
  {"width":262,"height":187,"data":{"name":"GZR"},"title":{"text":"GZR","offset":0,"baseline":"middle","frame":"group","dx":0,"dy":33},
   "mark":{"type":"line","strokeWidth":2.5,"clip":true},
   "encoding":{
    "x":{"field":"T","type":"quantitative","scale":{"type":"log","domain":[0.01,4],"nice":false},"axis":{"title":"Period T(s)","values":[0.01,0.02,0.03,0.04,0.05,0.06,0.07,0.08,0.09,0.1,0.2,0.3,0.4,0.5,0.6,0.7,0.8,0.9,1,2,3,4],"labelExpr":"datum.value==0.01?'0.01':datum.value==0.1?'0.1':datum.value==1?'1':''","tickSize":{"condition":{"test":"datum.value==0.01||datum.value==0.1||datum.value==1","value":10},"value":5},"labelPadding":4,"titlePadding":3}},
    "y":{"field":"v","type":"quantitative","scale":{"domain":[0,5],"nice":false},"axis":{"title":"Normalised SA (5%)","values":[0,0.5,1,1.5,2,2.5,3,3.5,4,4.5,5],"labelExpr":"datum.value%1==0?''+datum.value:''","tickSize":{"condition":{"test":"datum.value%1==0","value":11},"value":5},"labelPadding":3,"titlePadding":6}},
    "color":{"field":"s","type":"nominal","scale":{"domain":["G","O","Y","R"],"range":["#3dba38","#f5964a","#ffc000","#e8161b"]},"legend":null}}},
  {"width":262,"height":187,"data":{"name":"INXR"},"title":{"text":"INXR","offset":0,"baseline":"middle","frame":"group","dx":-4,"dy":37},
   "mark":{"type":"line","strokeWidth":2.5,"clip":true},
   "encoding":{
    "x":{"field":"T","type":"quantitative","scale":{"type":"log","domain":[0.01,4],"nice":false},"axis":{"title":"Period T(s)","values":[0.01,0.02,0.03,0.04,0.05,0.06,0.07,0.08,0.09,0.1,0.2,0.3,0.4,0.5,0.6,0.7,0.8,0.9,1,2,3,4],"labelExpr":"datum.value==0.01?'0.01':datum.value==0.1?'0.1':datum.value==1?'1':''","tickSize":{"condition":{"test":"datum.value==0.01||datum.value==0.1||datum.value==1","value":10},"value":5},"labelPadding":4,"titlePadding":3}},
    "y":{"field":"v","type":"quantitative","scale":{"domain":[0,5],"nice":false},"axis":{"title":null,"values":[0,0.5,1,1.5,2,2.5,3,3.5,4,4.5,5],"labelExpr":"datum.value%1==0?''+datum.value:''","tickSize":{"condition":{"test":"datum.value%1==0","value":11},"value":5},"labelPadding":3}},
    "color":{"field":"s","type":"nominal","scale":{"domain":["G","O","Y","R"],"range":["#3dba38","#f5964a","#ffc000","#e8161b"]},"legend":null}}}
 ]}
]}
],
"config":{
 "font":"Liberation Sans",
 "view":{"stroke":"#999","strokeWidth":1},
 "axis":{"domainColor":"#555","tickColor":"#555","labelColor":"#222","labelFontSize":11,"labelFont":"Liberation Sans","titleFont":"Liberation Sans","titleFontSize":13,"titleFontWeight":"bold","titleColor":"#111","grid":false,"labelFlush":false,"labelOverlap":false},
 "title":{"fontSize":13,"fontWeight":"bold","color":"#111","font":"Liberation Sans"}
}
}
